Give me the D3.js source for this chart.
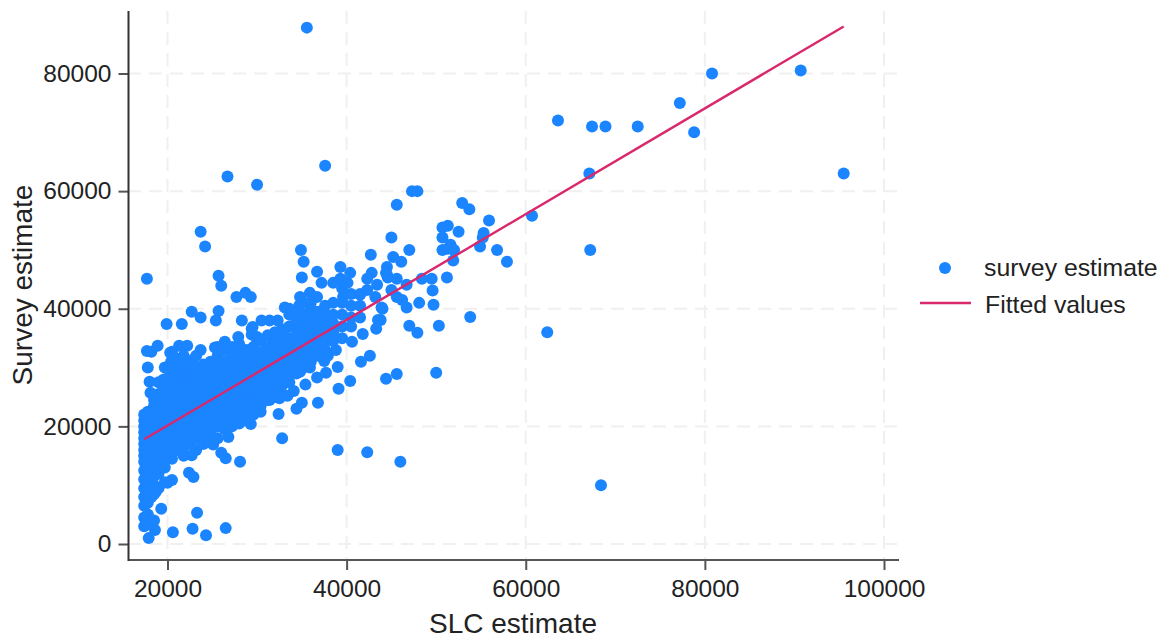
<!DOCTYPE html>
<html>
<head>
<meta charset="utf-8">
<script src="https://d3js.org/d3.v7.min.js"></script>
<style>
body { margin: 0; background: #fff; }
text { font-family: "Liberation Sans", Arial, sans-serif; fill: #222; }
</style>
</head>
<body>
<script>
// values
const xTicks = [20000, 40000, 60000, 80000, 100000];
const yTicks = [0, 20000, 40000, 60000, 80000];

// points that stand clear of the main cloud
const sparseSlc = [
  35560, 95500, 90700, 80800, 77200, 78800, 72500, 68900, 67400, 63600, 67100, 67200, 60700, 62400, 68400,
  56800, 57900, 55900, 55300, 55200, 54900, 53700, 52900, 52500, 51300, 50700, 50700, 50700, 51300, 51600, 52000,
  51900, 51200, 49500, 48400, 49600, 49700, 48100, 50300, 53800, 47000, 45000, 45600, 47300, 47900, 46100, 45200,
  44500, 44400, 44600, 45600, 46700, 45000, 45600, 46200, 46700, 44000, 43800, 47000, 47900, 44400, 45600, 50000,
  42700, 42800, 42300, 43400, 44500, 39600, 41500, 42300, 43200, 43900, 43500, 43300, 41800, 40600, 42600, 41600,
  37500, 39000, 37700, 40400, 39100, 36700, 35400, 36800, 35000, 34400, 34100, 32400, 29300, 28300,
  37200, 38500, 39300, 40100, 39300, 40400, 36700, 35000, 35200, 34900, 37600, 30000, 26700,
  35900, 36700, 34800, 33100, 29400, 30000, 31800, 27900, 26400, 25600, 23700, 22200, 21300, 20500, 18900, 18200, 17700, 17800,
  19900, 21600, 22700, 23700, 25700, 25400, 28300, 30500, 31400, 32300, 27700, 28700, 29300, 25700, 26000, 23700, 24200, 17700,
  32800, 39000, 42300, 46000, 28100, 26500, 26000, 25100, 26800, 22700, 20500, 22400, 22900, 20500, 20000,
  18700, 18200, 19300, 23300, 26500, 22800, 24300, 20600, 17900, 18600,
  18100, 18000, 19500, 20500, 21000, 21900, 22800, 24200, 25300, 29400, 30000, 32800, 20300, 29500, 32900, 34000, 33600, 34700,
  31400, 32500, 33400, 34800, 35900, 37900, 38800
];
const sparseSurvey = [
  87800, 63000, 80500, 80000, 75000, 70000, 71000, 71000, 71000, 72000, 63000, 50000, 55800, 36000, 10000,
  50000, 48000, 55000, 52900, 52100, 50600, 56900, 58000, 53100, 54100, 53800, 52100, 50000, 50200, 50900, 50000,
  48200, 45300, 45100, 45100, 43100, 40700, 41000, 37100, 38600, 50000, 52100, 57700, 60000, 60000, 48000, 48800,
  47100, 46100, 45300, 45100, 44100, 43200, 42000, 41500, 40200, 40000, 38100, 37100, 35900, 28100, 28900, 29100,
  49200, 46100, 45100, 44100, 45800, 42000, 42400, 43200, 42000, 40200, 38100, 36600, 35700, 34400, 32000, 31000,
  31100, 30100, 29100, 27700, 26400, 28300, 27100, 24000, 24000, 23000, 26000, 22100, 20400, 21300,
  44400, 44400, 45100, 44400, 47100, 46100, 46300, 45300, 48000, 50000, 64300, 61100, 62500,
  42700, 42000, 42000, 40200, 36600, 35200, 35000, 35200, 34400, 33500, 33000, 33700, 33700, 32700, 33700, 32700, 32800, 30000,
  37400, 37400, 39500, 38500, 39600, 38000, 38000, 38000, 38000, 38000, 42000, 42700, 42000, 45600, 43900, 53100, 50600, 45100,
  18000, 16000, 15600, 14000, 14000, 14600, 15500, 16900, 18200, 15100, 14500, 12100, 11400, 10900, 10400,
  8900, 8000, 6000, 5300, 2700, 2600, 1500, 2000, 1000, 2400,
  25700, 27600, 27900, 30500, 31000, 31300, 31300, 30100, 33400, 35600, 34700, 33500, 32500, 36900, 35900, 36900, 40000, 40500,
  24500, 24800, 25200, 29300, 30000, 32000, 33000
];

// the dense cloud, read column by column
const cloudSlc = [
  17400, 17800, 18500, 19000, 19700, 20400, 21100, 21800, 22500, 23200, 24000, 24800, 25600, 26400, 27200, 28000,
  28800, 29600, 30400, 31200, 32000, 32800, 33600, 34400, 35200, 36000, 36800, 37600, 38500, 39500, 40500, 41500
];
const cloudSurvey = [
  [3000, 4500, 6500, 8000, 9500, 11000, 12500, 14000, 15000, 16000, 17000, 18000, 19000, 20000, 21000, 22000],
  [3500, 5000, 7000, 9000, 10500, 12000, 13500, 15000, 16500, 18000, 19500, 21000, 22500],
  [4000, 8500, 10000, 11500, 13000, 14500, 16000, 17500, 19000, 20500, 22000, 23500, 24500],
  [9500, 12000, 13500, 15000, 16500, 18000, 19500, 21000, 22500, 24000, 25500, 27500],
  [10500, 13000, 14500, 16000, 17500, 19000, 20500, 22000, 23500, 25000, 26500, 28000, 30000],
  [15500, 17000, 18500, 20000, 21500, 23000, 24500, 26000, 27500, 29000, 31000],
  [16000, 17500, 19000, 20500, 22000, 23500, 25000, 26500, 28000, 29500, 31500],
  [15000, 16500, 18000, 19500, 21000, 22500, 24000, 25500, 27000, 28500, 30000, 32000],
  [17000, 18500, 20000, 21500, 23000, 24500, 26000, 27500, 29000, 30500],
  [16000, 18000, 19500, 21000, 22500, 24000, 25500, 27000, 28500, 30000, 32000],
  [17000, 18500, 20000, 21500, 23000, 24500, 26000, 27500, 29000, 30500],
  [17500, 19000, 20500, 22000, 23500, 25000, 26500, 28000, 29500, 31000],
  [18000, 20000, 21500, 23000, 24500, 26000, 27500, 29000, 30500, 32000],
  [19500, 20500, 22000, 23500, 25000, 26500, 28000, 29500, 31000, 33000],
  [20000, 21500, 23000, 24500, 26000, 27500, 29000, 30500, 32000, 33500],
  [20500, 22000, 23500, 25000, 26500, 28000, 29500, 31000, 32500, 34000],
  [21000, 22500, 24000, 25500, 27000, 28500, 30000, 31500, 33000],
  [22000, 23000, 24500, 26000, 27500, 29000, 30500, 32000, 33500],
  [22500, 23500, 25000, 26500, 28000, 29500, 31000, 32500, 34500],
  [24500, 26000, 27500, 29000, 30500, 32000, 33500, 35500],
  [25000, 26500, 28000, 29500, 31000, 32500, 34000, 36000],
  [25500, 27000, 28500, 30000, 31500, 33000, 34500, 36500],
  [27500, 29000, 30500, 32000, 33500, 35000, 37000, 39000],
  [29000, 30500, 32000, 33500, 35000, 36500, 38000, 39500],
  [30000, 31500, 33000, 34500, 36000, 37500, 39000, 41000],
  [31000, 32500, 34000, 35500, 37000, 38500, 40000, 41000],
  [32000, 33500, 35000, 36500, 38000, 39500],
  [33000, 34500, 36000, 37500, 39000, 40500],
  [34500, 36000, 37500, 39000, 41000],
  [35000, 37000, 39000, 41000, 43500],
  [37000, 38500, 40500, 42500],
  [38500, 40500, 42500]
];

// fitted line end points
const fitSlc = [17400, 95500];
const fitSurvey = [17800, 88000];

const points = sparseSlc.map((d, i) => [d, sparseSurvey[i]]);
cloudSlc.forEach((d, i) => cloudSurvey[i].forEach(v => points.push([d, v])));

const svg = d3.select('body')
  .append('svg')
  .attr('width', 1169)
  .attr('height', 640);

const xScale = d3.scaleLinear().domain([20000, 100000]).range([167.5, 884]);
const yScale = d3.scaleLinear().domain([0, 80000]).range([544, 73.5]);

// grid
svg.append('g').selectAll('line')
  .data(xTicks)
  .enter()
  .append('line')
  .attr('x1', d => xScale(d))
  .attr('x2', d => xScale(d))
  .attr('y1', 11)
  .attr('y2', 560)
  .attr('stroke', '#f0f0f0')
  .attr('stroke-width', 2)
  .attr('stroke-dasharray', '13 8');

svg.append('g').selectAll('line')
  .data(yTicks)
  .enter()
  .append('line')
  .attr('x1', 128)
  .attr('x2', 899)
  .attr('y1', d => yScale(d))
  .attr('y2', d => yScale(d))
  .attr('stroke', '#f0f0f0')
  .attr('stroke-width', 2)
  .attr('stroke-dasharray', '13 8');

// points
svg.append('g').selectAll('circle')
  .data(points)
  .enter()
  .append('circle')
  .attr('cx', d => xScale(d[0]))
  .attr('cy', d => yScale(d[1]))
  .attr('r', 6)
  .attr('fill', '#1a85ff');

// fitted line
svg.append('path')
  .datum(fitSlc.map((d, i) => [d, fitSurvey[i]]))
  .attr('d', d3.line().x(d => xScale(d[0])).y(d => yScale(d[1])))
  .attr('fill', 'none')
  .attr('stroke', '#d9286c')
  .attr('stroke-width', 2.4);

// axes
const xAxis = svg.append('g')
  .attr('transform', 'translate(0, 560)')
  .call(d3.axisBottom(xScale).tickValues(xTicks).tickFormat(d3.format('d')).tickSize(10).tickPadding(10).tickSizeOuter(0));
const yAxis = svg.append('g')
  .attr('transform', 'translate(128.5, 0)')
  .call(d3.axisLeft(yScale).tickValues(yTicks).tickFormat(d3.format('d')).tickSize(10).tickPadding(7).tickSizeOuter(0));

xAxis.select('.domain').remove();
yAxis.select('.domain').remove();
xAxis.selectAll('line').attr('stroke', '#555').attr('stroke-width', 2);
yAxis.selectAll('line').attr('stroke', '#555').attr('stroke-width', 2);
xAxis.selectAll('text').attr('font-size', 24.5).style('font-family', '"Liberation Sans", Arial, sans-serif').style('fill', '#222');
yAxis.selectAll('text').attr('font-size', 24.5).style('font-family', '"Liberation Sans", Arial, sans-serif').style('fill', '#222');

svg.append('line')
  .attr('x1', 128).attr('x2', 899).attr('y1', 560).attr('y2', 560)
  .attr('stroke', '#555').attr('stroke-width', 2);
svg.append('line')
  .attr('x1', 128.5).attr('x2', 128.5).attr('y1', 11).attr('y2', 561)
  .attr('stroke', '#333').attr('stroke-width', 2);

// axis titles
svg.append('text')
  .text('SLC estimate')
  .attr('x', 513)
  .attr('y', 633)
  .attr('text-anchor', 'middle')
  .attr('font-size', 28);

svg.append('text')
  .attr('transform', 'translate(32, 285) rotate(-90)')
  .text('Survey estimate')
  .attr('text-anchor', 'middle')
  .attr('font-size', 28);

// legend
svg.append('circle')
  .attr('cx', 945)
  .attr('cy', 268)
  .attr('r', 6)
  .attr('fill', '#1a85ff');
svg.append('text')
  .text('survey estimate')
  .attr('x', 984)
  .attr('y', 276)
  .attr('font-size', 24.8);
svg.append('line')
  .attr('x1', 920).attr('x2', 971).attr('y1', 303).attr('y2', 303)
  .attr('stroke', '#d9286c').attr('stroke-width', 2.4);
svg.append('text')
  .text('Fitted values')
  .attr('x', 985)
  .attr('y', 313)
  .attr('font-size', 24.8);
</script>
</body>
</html>
